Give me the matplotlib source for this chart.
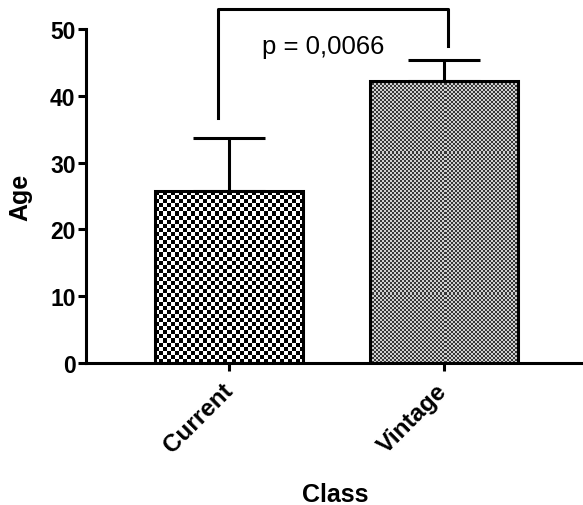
import numpy as np
import matplotlib
matplotlib.use("Agg")
import matplotlib.pyplot as plt

# data
classes = ["Current", "Vintage"]
mean_age = [25.7, 42.2]
sem_age = [8.0, 3.2]
p_text = "p = 0,0066"

plt.rcParams["font.family"] = ["Liberation Sans", "DejaVu Sans"]

fig = plt.figure(figsize=(5.83, 5.06), dpi=100)
ax = fig.add_axes([0.1475, 0.2806, 0.8525, 0.66])

x = np.arange(len(classes))
bars = ax.bar(x, mean_age, width=0.69, color="none", edgecolor="black",
              linewidth=2.2, zorder=3)
ax.errorbar(x, mean_age, yerr=[[0] * len(x), sem_age], fmt="none",
            ecolor="black", elinewidth=2.2, capsize=26, capthick=2.2, zorder=2)

# checkerboard fills clipped to each bar (cell size in pixels, dark/light grey)
cell_px = [4, 2]
shades = [(0.0, 1.0), (0.22, 0.82)]
for bar, c, (dark, light) in zip(bars, cell_px, shades):
    w_px = bar.get_width() * 215
    h_px = bar.get_height() * 6.68
    ny, nx = int(h_px // c), int(w_px // c)
    yy, xx = np.mgrid[0:ny, 0:nx]
    board = np.where((yy + xx) % 2 == 0, dark, light)
    im = ax.imshow(board, cmap="gray", vmin=0, vmax=1, interpolation="nearest",
                   extent=[bar.get_x(), bar.get_x() + bar.get_width(), 0, bar.get_height()],
                   aspect="auto", zorder=1)
    im.set_clip_path(bar)

ax.set_xlim(-0.665, 1.647)
ax.set_ylim(0, 50)
ax.set_yticks([0, 10, 20, 30, 40, 50])
ax.set_xticks(x)
ax.set_xticklabels(classes, rotation=45, ha="right", va="center",
                   rotation_mode="anchor", fontsize=17.5, fontweight="bold")
for lab in ax.get_yticklabels():
    lab.set_fontsize(16.5)
    lab.set_fontweight("bold")
ax.tick_params(axis="both", direction="out", length=6, width=2.2, pad=1.5)
ax.tick_params(axis="x", pad=11)

for side in ["top", "right"]:
    ax.spines[side].set_visible(False)
for side in ["left", "bottom"]:
    ax.spines[side].set_linewidth(2.2)

ax.set_ylabel("Age", fontsize=18, fontweight="bold")
ax.yaxis.set_label_coords(-0.107, 0.5)
ax.set_xlabel("Class", fontsize=18, fontweight="bold")
ax.xaxis.set_label_coords(0.501, -0.356)

# significance bracket
ax.plot([-0.05, -0.05, 1.02, 1.02], [36.7, 53.0, 53.0, 47.5], color="black",
        linewidth=2.2, clip_on=False)
ax.text(0.44, 47.5, p_text, ha="center", va="center", fontsize=18.5)

fig.savefig("out.png", dpi=100)
